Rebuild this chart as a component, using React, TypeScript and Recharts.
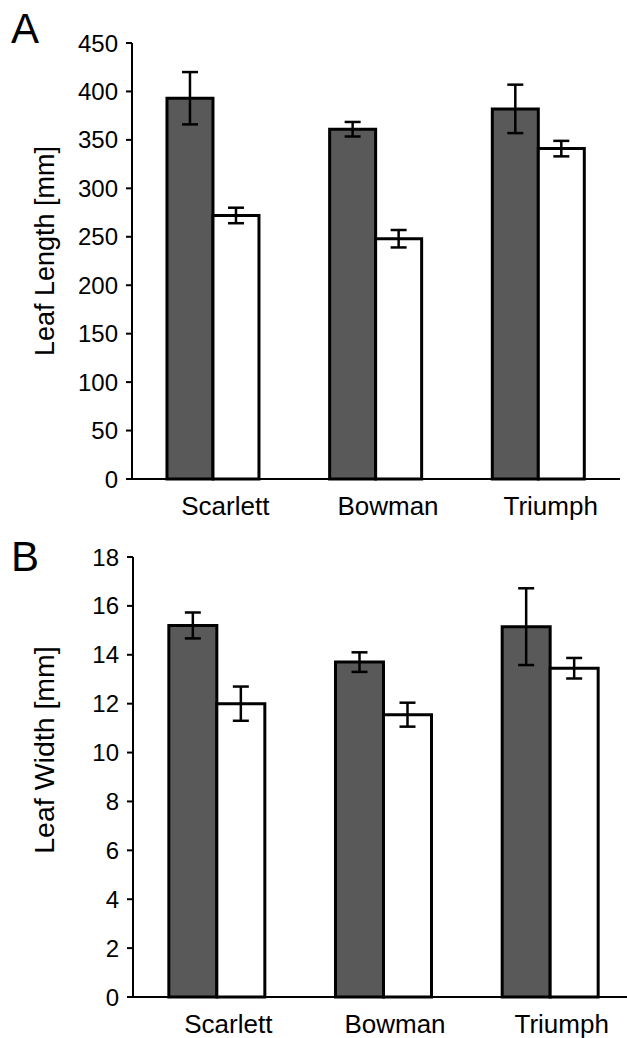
import { Bar, BarChart, ErrorBar, XAxis, YAxis } from "recharts";

const categories = ["Scarlett", "Bowman", "Triumph"];

// panel A - leaf length [mm]
const lengthDark = [393, 361, 382];
const lengthDarkErr = [27, 7.5, 25];
const lengthLight = [272, 248, 341];
const lengthLightErr = [8, 9, 8];
const lengthTicks = [0, 50, 100, 150, 200, 250, 300, 350, 400, 450];

// panel B - leaf width [mm]
const widthDark = [15.2, 13.7, 15.15];
const widthDarkErr = [0.53, 0.4, 1.57];
const widthLight = [12.0, 11.55, 13.45];
const widthLightErr = [0.7, 0.49, 0.42];
const widthTicks = [0, 2, 4, 6, 8, 10, 12, 14, 16, 18];

const edgeTicks = categories.map((_, i) => i).concat(categories.length);

const FONT = "'Liberation Sans', Arial, sans-serif";
const DARK = "#595959";

const lengthData = categories.map((name, i) => ({
  name,
  dark: lengthDark[i],
  darkErr: lengthDarkErr[i],
  light: lengthLight[i],
  lightErr: lengthLightErr[i],
}));

const widthData = categories.map((name, i) => ({
  name,
  dark: widthDark[i],
  darkErr: widthDarkErr[i],
  light: widthLight[i],
  lightErr: widthLightErr[i],
}));

function CategoryTick({ x, y, payload }: any) {
  return (
    <text
      x={x + 12}
      y={y}
      dy={28}
      textAnchor="middle"
      fontFamily={FONT}
      fontSize={26}
      fill="#000"
    >
      {payload.value}
    </text>
  );
}

function Panel({
  data,
  ticks,
  label,
  labelSize,
  width,
  height,
  margin,
  labelShift,
}: any) {
  const max = ticks[ticks.length - 1];
  return (
    <BarChart
      width={width}
      height={height}
      data={data}
      margin={margin}
      barCategoryGap="21.5%"
      barGap={0}
    >
      <XAxis
        xAxisId="edges"
        type="number"
        dataKey="none"
        domain={[0, categories.length]}
        ticks={edgeTicks}
        allowDataOverflow
        height={0}
        axisLine={false}
        tickSize={7}
        tickLine={{ stroke: "#000", strokeWidth: 2 }}
        tickFormatter={() => ""}
      />
      <XAxis
        dataKey="name"
        height={40}
        axisLine={{ stroke: "#000", strokeWidth: 2 }}
        tickLine={false}
        tick={<CategoryTick />}
        interval={0}
      />
      <YAxis
        domain={[0, max]}
        ticks={ticks}
        width={132}
        interval={0}
        axisLine={{ stroke: "#000", strokeWidth: 2 }}
        tickLine={{ stroke: "#000", strokeWidth: 2 }}
        tickSize={6}
        tickMargin={8}
        tick={{ fontFamily: FONT, fontSize: 24, fill: "#000" }}
        label={({ viewBox }: any) => {
          const cy = viewBox.y + viewBox.height / 2 + labelShift;
          return (
            <text
              x={54}
              y={cy}
              transform={`rotate(-90 54 ${cy})`}
              textAnchor="middle"
              fontFamily={FONT}
              fontSize={labelSize}
              fill="#000"
            >
              {label}
            </text>
          );
        }}
      />
      <Bar
        dataKey="dark"
        fill={DARK}
        stroke="#000"
        strokeWidth={3}
        isAnimationActive={false}
      >
        <ErrorBar dataKey="darkErr" width={8} stroke="#000" strokeWidth={2.5} />
      </Bar>
      <Bar
        dataKey="light"
        fill="#fff"
        stroke="#000"
        strokeWidth={3}
        isAnimationActive={false}
      >
        <ErrorBar dataKey="lightErr" width={8} stroke="#000" strokeWidth={2.5} />
      </Bar>
    </BarChart>
  );
}

const panelLetter = (top: number): any => ({
  position: "absolute",
  left: 11,
  top,
  fontFamily: FONT,
  fontSize: 42,
  lineHeight: 1,
  color: "#000",
});

export default function App() {
  return (
    <div
      style={{
        position: "fixed",
        left: 0,
        top: 0,
        width: 627,
        height: 1038,
        overflow: "hidden",
        background: "#fff",
      }}
    >
      <div style={{ position: "absolute", left: 0, top: 0 }}>
        <Panel
          data={lengthData}
          ticks={lengthTicks}
          label="Leaf Length [mm]"
          labelSize={27}
          width={627}
          height={525}
          margin={{ top: 43, right: 7, bottom: 6, left: 0 }}
          labelShift={-10}
        />
      </div>
      <div style={{ position: "absolute", left: 0, top: 520 }}>
        <Panel
          data={widthData}
          ticks={widthTicks}
          label="Leaf Width [mm]"
          labelSize={28.5}
          width={640}
          height={518}
          margin={{ top: 37, right: 7, bottom: 1, left: 1 }}
          labelShift={-27}
        />
      </div>
      <div style={panelLetter(8)}>A</div>
      <div style={panelLetter(536)}>B</div>
    </div>
  );
}
